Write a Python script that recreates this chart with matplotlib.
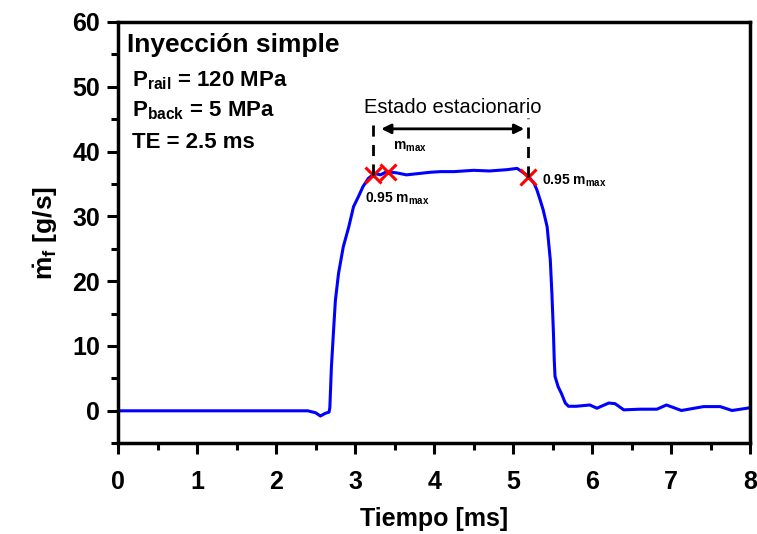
import matplotlib
matplotlib.use("Agg")
import matplotlib.pyplot as plt
from matplotlib.ticker import MultipleLocator

plt.rcParams['font.family'] = ['Liberation Sans', 'DejaVu Sans']
plt.rcParams['mathtext.fontset'] = 'custom'
plt.rcParams['mathtext.rm'] = 'Liberation Sans'
plt.rcParams['mathtext.bf'] = 'Liberation Sans:bold'
plt.rcParams['mathtext.it'] = 'Liberation Sans:italic'

# mass flow rate trace
tiempo = [0.0, 0.5, 1.0, 1.5, 2.0, 2.4, 2.5, 2.56, 2.62, 2.67, 2.68, 2.70, 2.73, 2.75,
          2.79, 2.85, 2.92, 2.98, 3.04, 3.10, 3.17, 3.25, 3.32, 3.40, 3.53, 3.65,
          3.80, 3.95, 4.08, 4.25, 4.50, 4.70, 4.92, 5.05, 5.11, 5.19, 5.26, 5.30,
          5.34, 5.38, 5.43, 5.47, 5.49, 5.51, 5.52, 5.53, 5.57, 5.61, 5.66, 5.70,
          5.80, 5.97, 6.06, 6.21, 6.29, 6.40, 6.61, 6.82, 6.94, 7.13, 7.41, 7.62,
          7.77, 7.96, 8.0]
caudal = [0.0, 0.0, 0.0, 0.0, 0.0, 0.0, -0.3, -0.8, -0.4, -0.2, 0.5, 6.8, 13.0, 17.0,
          21.2, 25.3, 28.4, 31.5, 33.0, 34.6, 35.9, 36.6, 36.4, 36.9, 36.7, 36.4,
          36.6, 36.8, 36.9, 36.9, 37.1, 37.0, 37.2, 37.4, 36.9, 36.2, 35.2, 34.1,
          32.6, 31.0, 28.4, 23.3, 18.2, 12.0, 7.9, 5.3, 3.7, 2.7, 1.2, 0.7,
          0.7, 0.9, 0.4, 1.2, 1.1, 0.15, 0.25, 0.25, 0.9, 0.05, 0.65, 0.65,
          0.05, 0.4, 0.5]

# marked points (0.95 m_max, m_max, 0.95 m_max)
marca_t = [3.23, 3.42, 5.19]
marca_v = [36.4, 36.9, 36.1]

fig = plt.figure(figsize=(7.57, 5.34), dpi=100)
ax = fig.add_axes([0.156, 0.170, 0.835, 0.789])

ax.plot(tiempo, caudal, color='#0000ff', lw=2.2)
ax.plot(marca_t, marca_v, 'x', color='red', ms=12, mew=2.2)

# steady state region
ax.plot([marca_t[0], marca_t[0]], [marca_v[0], 45.2], 'k--', lw=2, dashes=(4, 3))
ax.plot([marca_t[2], marca_t[2]], [marca_v[2], 45.2], 'k--', lw=2, dashes=(4, 3))
ax.annotate('', xy=(3.33, 43.5), xytext=(5.14, 43.5),
            arrowprops=dict(arrowstyle='<|-|>', color='k', lw=2, mutation_scale=14,
                            shrinkA=0, shrinkB=0))
ax.text(4.23, 46.0, 'Estado estacionario', ha='center', va='baseline', fontsize=14.5)

ax.text(3.48, 40.3, r'm$_{\mathregular{max}}$', fontsize=10, fontweight='bold', ha='left', va='baseline')
ax.text(3.12, 32.1, r'0.95 m$_{\mathregular{max}}$', fontsize=10, fontweight='bold', va='baseline')
ax.text(5.36, 34.9, r'0.95 m$_{\mathregular{max}}$', fontsize=10, fontweight='bold', va='baseline')

ax.text(0.11, 55.4, 'Inyección simple', fontsize=19, fontweight='bold', va='baseline')
ax.text(0.18, 50.0, r'P$_{\mathbf{rail}}$ = 120 MPa', fontsize=16, fontweight='bold', va='baseline')
ax.text(0.18, 45.4, r'P$_{\mathbf{back}}$ = 5 MPa', fontsize=16, fontweight='bold', va='baseline')
ax.text(0.18, 40.6, 'TE = 2.5 ms', fontsize=16, fontweight='bold', va='baseline')

ax.set_xlim(0, 8)
ax.set_ylim(-5, 60)
ax.xaxis.set_major_locator(MultipleLocator(1))
ax.xaxis.set_minor_locator(MultipleLocator(0.5))
ax.yaxis.set_major_locator(MultipleLocator(10))
ax.yaxis.set_minor_locator(MultipleLocator(5))
ax.tick_params(which='both', direction='out', width=2.2, labelsize=18)
ax.tick_params(which='major', length=8)
ax.tick_params(which='minor', length=5)
ax.tick_params(axis='x', which='major', pad=11)
ax.tick_params(axis='y', which='major', pad=5)
for lab in ax.get_xticklabels() + ax.get_yticklabels():
    lab.set_fontweight('bold')
for s in ax.spines.values():
    s.set_linewidth(2.5)

ax.set_xlabel('Tiempo [ms]', fontsize=18, fontweight='bold', labelpad=10)
ax.set_ylabel(r'$\mathbf{\dot{m}_f}$ [g/s]', fontsize=19, fontweight='bold', labelpad=9)

fig.savefig('out.png', dpi=100)
